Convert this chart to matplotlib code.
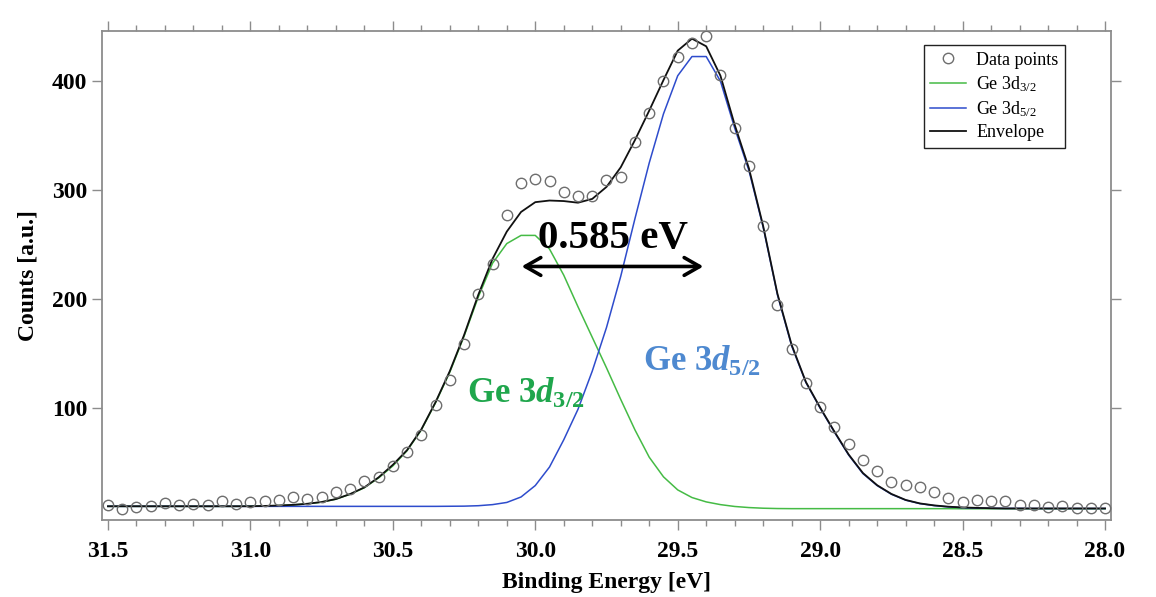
import numpy as np
import matplotlib
matplotlib.use('Agg')
import matplotlib.pyplot as plt
from matplotlib.ticker import MultipleLocator

plt.rcParams['font.family'] = 'Liberation Serif'
plt.rcParams['mathtext.fontset'] = 'custom'
plt.rcParams['mathtext.rm'] = 'Liberation Serif'
plt.rcParams['mathtext.it'] = 'Liberation Serif:italic:bold'
plt.rcParams['mathtext.bf'] = 'Liberation Serif:bold'

# binding energy grid [eV]
energy = [31.50, 31.45, 31.40, 31.35, 31.30, 31.25, 31.20, 31.15, 31.10, 31.05,
          31.00, 30.95, 30.90, 30.85, 30.80, 30.75, 30.70, 30.65, 30.60, 30.55,
          30.50, 30.45, 30.40, 30.35, 30.30, 30.25, 30.20, 30.15, 30.10, 30.05,
          30.00, 29.95, 29.90, 29.85, 29.80, 29.75, 29.70, 29.65, 29.60, 29.55,
          29.50, 29.45, 29.40, 29.35, 29.30, 29.25, 29.20, 29.15, 29.10, 29.05,
          29.00, 28.95, 28.90, 28.85, 28.80, 28.75, 28.70, 28.65, 28.60, 28.55,
          28.50, 28.45, 28.40, 28.35, 28.30, 28.25, 28.20, 28.15, 28.10, 28.05,
          28.00]

# measured counts
counts = [11.1, 7.8, 9.6, 10.5, 12.9, 11.1, 11.7, 11.4, 14.8, 12.3,
          14.2, 14.5, 15.7, 18.1, 16.3, 18.4, 23.0, 26.1, 33.1, 37.1,
          46.9, 60.0, 75.0, 102.5, 126.0, 159.0, 205.0, 232.0, 277.5, 307.0,
          310.5, 308.0, 298.0, 295.0, 295.0, 309.0, 311.7, 344.0, 371.0, 400.0,
          422.6, 435.0, 441.6, 406.0, 357.0, 321.8, 267.5, 195.0, 154.7, 123.5,
          101.3, 82.6, 66.7, 52.3, 42.6, 31.9, 29.8, 27.3, 22.7, 17.2,
          14.2, 15.7, 14.8, 14.8, 11.1, 11.0, 9.6, 9.9, 8.1, 8.7,
          8.1]

# fitted components
ge32 = [9.9, 9.9, 9.9, 9.9, 9.9, 9.9, 9.9, 9.9, 9.9, 9.9,
        10.1, 10.3, 10.6, 11.2, 12.2, 13.8, 16.5, 21.0, 27.0, 36.0,
        47.0, 61.0, 80.0, 105.0, 133.0, 166.0, 202.0, 233.0, 251.0, 258.5,
        258.5, 246.0, 222.0, 193.0, 165.0, 137.0, 108.0, 80.0, 55.0, 37.0,
        25.0, 18.0, 14.0, 11.5, 9.8, 8.8, 8.2, 7.9, 7.8, 7.8,
        7.8, 7.8, 7.8, 7.8, 7.8, 7.8, 7.8, 7.8, 7.8, 7.8,
        7.7, 7.7, 7.7, 7.7, 7.7, 7.7, 7.7, 7.7, 7.7, 7.7,
        7.7]

ge52 = [9.9, 9.9, 9.9, 9.9, 9.9, 9.9, 9.9, 9.9, 9.9, 9.9,
        9.9, 9.9, 9.9, 9.9, 9.9, 9.9, 9.9, 9.9, 9.9, 9.9,
        9.9, 9.9, 9.9, 9.9, 10.0, 10.1, 10.5, 11.5, 13.5, 18.5,
        29.0, 46.0, 71.0, 99.0, 134.0, 174.0, 221.0, 274.0, 325.0, 370.0,
        405.0, 422.6, 422.6, 400.0, 357.0, 318.0, 266.0, 204.0, 157.0, 123.5,
        100.0, 78.0, 57.0, 40.0, 29.0, 21.0, 15.6, 12.4, 10.6, 9.4,
        8.7, 8.3, 8.1, 8.0, 8.0, 7.9, 7.9, 7.9, 7.9, 7.9,
        7.9]

envelope = [10.0, 10.0, 10.0, 10.0, 10.0, 10.0, 10.0, 10.0, 10.0, 10.0,
            10.0, 10.3, 10.7, 11.3, 12.3, 13.9, 16.6, 21.2, 27.3, 36.5,
            48.0, 61.5, 80.5, 105.5, 134.0, 167.0, 204.0, 237.0, 262.0, 280.0,
            289.0, 290.5, 290.0, 288.5, 292.0, 303.0, 321.0, 346.0, 373.0, 401.0,
            428.0, 439.0, 432.0, 405.0, 360.0, 320.0, 267.0, 205.0, 158.0, 124.0,
            100.5, 78.5, 57.5, 40.5, 29.3, 21.3, 15.8, 12.6, 10.8, 9.6,
            8.9, 8.5, 8.2, 8.0, 8.0, 8.0, 8.0, 8.0, 8.0, 8.0,
            8.0]

x_ticks = [31.5, 31.0, 30.5, 30.0, 29.5, 29.0, 28.5, 28.0]
y_ticks = [100, 200, 300, 400]

# splitting annotation
split_text = '0.585 eV'
arrow_start = 30.048
arrow_end = 29.41
arrow_y = 230

spine_grey = '#8c8c8c'

fig = plt.figure(figsize=(11.56, 5.97), dpi=100)
ax = fig.add_axes([0.0882, 0.129, 0.8729, 0.819])

ax.plot(energy, counts, 'o', mfc='none', mec='#6e6e6e', mew=1.0, ms=7.5,
        label='Data points', zorder=4)
ax.plot(energy, ge32, color='#45bb45', lw=1.1, label=r'Ge 3d$_{\mathregular{3/2}}$', zorder=2)
ax.plot(energy, ge52, color='#2e4ccc', lw=1.1, label=r'Ge 3d$_{\mathregular{5/2}}$', zorder=2.5)
ax.plot(energy, envelope, color='#111111', lw=1.3, label='Envelope', zorder=3)

ax.set_xlim(31.521, 27.979)
ax.set_ylim(-2.6, 446)
ax.set_xticks(x_ticks)
ax.set_yticks(y_ticks)
ax.xaxis.set_minor_locator(MultipleLocator(0.1))
ax.set_xticklabels([f'{v:.1f}' for v in x_ticks])

for s in ax.spines.values():
    s.set_color(spine_grey)
    s.set_linewidth(1.3)

ax.tick_params(which='both', direction='out', color=spine_grey, width=1.0,
               top=True, right=True, labeltop=False, labelright=False)
ax.tick_params(which='major', length=7.5)
ax.tick_params(which='minor', length=4.5)
ax.tick_params(axis='x', pad=7.5, labelsize=17)
ax.tick_params(axis='y', pad=3, labelsize=17)
for lab in ax.get_xticklabels() + ax.get_yticklabels():
    lab.set_fontweight('bold')

ax.set_xlabel('Binding Energy [eV]', fontsize=17, fontweight='bold', labelpad=7)
ax.set_ylabel('Counts [a.u.]', fontsize=17, fontweight='bold', labelpad=10)

ax.annotate('', xy=(arrow_end, arrow_y), xytext=(arrow_start, arrow_y),
            arrowprops=dict(arrowstyle='<->,head_length=0.35,head_width=0.2',
                            lw=2.6, color='black', mutation_scale=32,
                            shrinkA=0, shrinkB=0))
ax.text(29.99, 247, split_text, fontsize=29.5, fontweight='bold',
        ha='left', va='baseline')

ax.text(30.241, 105, r'Ge 3$\mathit{d}_{\mathregular{3/2}}$', fontsize=25,
        fontweight='bold', color='#1fa64c', ha='left', va='baseline')
ax.text(29.621, 134, r'Ge 3$\mathit{d}_{\mathregular{5/2}}$', fontsize=25,
        fontweight='bold', color='#4e89d0', ha='left', va='baseline')

leg = ax.legend(loc='upper right', bbox_to_anchor=(0.954, 0.971), borderaxespad=0,
                fontsize=13, frameon=True, fancybox=False, framealpha=1,
                edgecolor='#222222', handlelength=2.0, handletextpad=0.55,
                labelspacing=0.3, borderpad=0.35, prop={'weight': 'normal', 'size': 13})
leg.get_frame().set_linewidth(1.0)

fig.savefig('out.png', dpi=100, facecolor='white')
